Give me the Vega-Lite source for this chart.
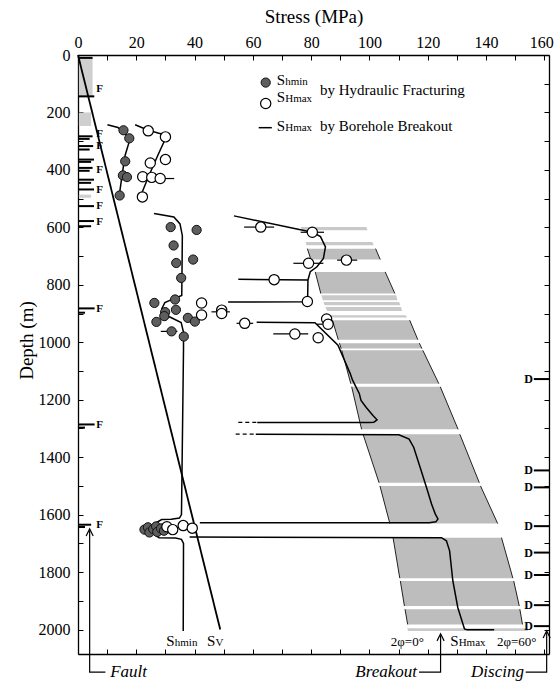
{
  "$schema": "https://vega.github.io/schema/vega-lite/v6.json",
  "width": 471,
  "height": 599,
  "autosize": {"type": "none"},
  "padding": {"left": 78, "top": 55, "right": 6, "bottom": 28},
  "config": {
    "view": {"stroke": null},
    "font": "Liberation Serif",
    "axis": {"domainColor": "#000", "domainWidth": 1.3, "tickColor": "#000", "tickWidth": 1, "labelColor": "#000", "labelFont": "Liberation Serif", "labelFontSize": 16, "titleFont": "Liberation Serif", "titleFontSize": 19, "titleFontWeight": "normal", "titleColor": "#000", "grid": false, "labelOverlap": false, "labelFlush": false}
  },
  "datasets": {
    "band": [
      {"seg": "C", "y": 674, "L": 78.7, "R": 102.1}, {"seg": "C", "y": 712, "L": 79.9, "R": 103.7},
      {"seg": "D", "y": 755, "L": 81.4, "R": 105.4}, {"seg": "D", "y": 830, "L": 83.3, "R": 108.7},
      {"seg": "I", "y": 923, "L": 87.3, "R": 113.8}, {"seg": "I", "y": 991, "L": 89.3, "R": 116.6},
      {"seg": "J", "y": 1003, "L": 89.7, "R": 117.1}, {"seg": "J", "y": 1022, "L": 90.3, "R": 118.0},
      {"seg": "K", "y": 1028, "L": 90.5, "R": 118.3}, {"seg": "K", "y": 1144, "L": 93.6, "R": 123.8},
      {"seg": "L", "y": 1155, "L": 93.9, "R": 124.3}, {"seg": "L", "y": 1303, "L": 97.3, "R": 130.4},
      {"seg": "M", "y": 1320, "L": 97.8, "R": 131.0}, {"seg": "M", "y": 1489, "L": 103.3, "R": 137.7},
      {"seg": "N", "y": 1500, "L": 103.6, "R": 138.1}, {"seg": "N", "y": 1631, "L": 107.0, "R": 144.0},
      {"seg": "O", "y": 1680, "L": 108.1, "R": 145.3}, {"seg": "O", "y": 1821, "L": 110.4, "R": 149.2},
      {"seg": "P", "y": 1831, "L": 110.6, "R": 149.5}, {"seg": "P", "y": 1918, "L": 112.0, "R": 151.4},
      {"seg": "Q", "y": 1929, "L": 112.2, "R": 151.6}, {"seg": "Q", "y": 1982, "L": 113.1, "R": 152.5}
    ],
    "strips": [
      {"seg": "A", "y": 599, "L": 76.4, "R": 98.9}, {"seg": "A", "y": 610, "L": 76.8, "R": 99.4},
      {"seg": "B", "y": 651, "L": 78.1, "R": 101.0}, {"seg": "B", "y": 662, "L": 78.4, "R": 101.5},
      {"seg": "E", "y": 836, "L": 83.5, "R": 109.2}, {"seg": "E", "y": 854, "L": 84.0, "R": 109.6},
      {"seg": "F", "y": 860, "L": 84.2, "R": 110.2}, {"seg": "F", "y": 871, "L": 84.6, "R": 110.6},
      {"seg": "G", "y": 877, "L": 84.9, "R": 110.8}, {"seg": "G", "y": 891, "L": 85.5, "R": 111.2},
      {"seg": "H", "y": 906, "L": 86.5, "R": 112.4}, {"seg": "H", "y": 914, "L": 86.9, "R": 112.9},
      {"seg": "R", "y": 1995, "L": 113.0, "R": 154.2}, {"seg": "R", "y": 2005, "L": 113.2, "R": 154.4}
    ],
    "lines": [
      {"id": "u1", "x": 10.1, "y": 243}, {"id": "u1", "x": 13.7, "y": 252}, {"id": "u1", "x": 17.9, "y": 291}, {"id": "u1", "x": 16.2, "y": 348}, {"id": "u1", "x": 15.3, "y": 406}, {"id": "u1", "x": 14.0, "y": 500},
      {"id": "u2", "x": 19.6, "y": 243}, {"id": "u2", "x": 24.1, "y": 262}, {"id": "u2", "x": 30.5, "y": 280}, {"id": "u2", "x": 27.4, "y": 349}, {"id": "u2", "x": 23.9, "y": 430}, {"id": "u2", "x": 21.6, "y": 488},
      {"id": "shp", "x": 26.1, "y": 552}, {"id": "shp", "x": 32.9, "y": 564}, {"id": "shp", "x": 35.0, "y": 588}, {"id": "shp", "x": 35.8, "y": 629}, {"id": "shp", "x": 35.6, "y": 837}, {"id": "shp", "x": 32.7, "y": 849}, {"id": "shp", "x": 29.8, "y": 862}, {"id": "shp", "x": 28.7, "y": 884}, {"id": "shp", "x": 29.2, "y": 901}, {"id": "shp", "x": 31.5, "y": 912}, {"id": "shp", "x": 35.4, "y": 931}, {"id": "shp", "x": 36.2, "y": 965}, {"id": "shp", "x": 36.2, "y": 1023}, {"id": "shp", "x": 35.5, "y": 1600}, {"id": "shp", "x": 34.8, "y": 1612}, {"id": "shp", "x": 32.0, "y": 1616}, {"id": "shp", "x": 28.7, "y": 1617}, {"id": "shp", "x": 26.5, "y": 1630}, {"id": "shp", "x": 26.0, "y": 1650}, {"id": "shp", "x": 26.5, "y": 1672}, {"id": "shp", "x": 27.8, "y": 1680}, {"id": "shp", "x": 33.5, "y": 1681}, {"id": "shp", "x": 35.5, "y": 1686}, {"id": "shp", "x": 36.2, "y": 1700}, {"id": "shp", "x": 36.1, "y": 2005},
      {"id": "s1", "x": 53.5, "y": 560}, {"id": "s1", "x": 80.4, "y": 617}, {"id": "s1", "x": 83.2, "y": 632}, {"id": "s1", "x": 84.9, "y": 668}, {"id": "s1", "x": 84.2, "y": 708}, {"id": "s1", "x": 82.0, "y": 737}, {"id": "s1", "x": 79.7, "y": 754}, {"id": "s1", "x": 78.9, "y": 783}, {"id": "s1", "x": 78.8, "y": 841}, {"id": "s1", "x": 78.2, "y": 859}, {"id": "s1", "x": 51.5, "y": 860},
      {"id": "s1b", "x": 55.0, "y": 781}, {"id": "s1b", "x": 78.9, "y": 783},
      {"id": "s2", "x": 61.3, "y": 930}, {"id": "s2", "x": 81.3, "y": 932}, {"id": "s2", "x": 89.2, "y": 1010}, {"id": "s2", "x": 93.4, "y": 1109}, {"id": "s2", "x": 94.2, "y": 1132}, {"id": "s2", "x": 96.5, "y": 1178}, {"id": "s2", "x": 97.1, "y": 1202}, {"id": "s2", "x": 98.9, "y": 1227}, {"id": "s2", "x": 101.2, "y": 1255}, {"id": "s2", "x": 102.6, "y": 1270}, {"id": "s2", "x": 101.5, "y": 1278}, {"id": "s2", "x": 100.0, "y": 1279}, {"id": "s2", "x": 61.5, "y": 1279},
      {"id": "s3", "x": 61.0, "y": 1320}, {"id": "s3", "x": 110.1, "y": 1322}, {"id": "s3", "x": 113.6, "y": 1337}, {"id": "s3", "x": 115.2, "y": 1366}, {"id": "s3", "x": 117.4, "y": 1436}, {"id": "s3", "x": 119.6, "y": 1506}, {"id": "s3", "x": 121.3, "y": 1563}, {"id": "s3", "x": 122.6, "y": 1598}, {"id": "s3", "x": 123.5, "y": 1615}, {"id": "s3", "x": 122.8, "y": 1625}, {"id": "s3", "x": 120.5, "y": 1628}, {"id": "s3", "x": 41.8, "y": 1628},
      {"id": "s4", "x": 38.3, "y": 1678}, {"id": "s4", "x": 124.7, "y": 1680}, {"id": "s4", "x": 126.4, "y": 1691}, {"id": "s4", "x": 127.5, "y": 1726}, {"id": "s4", "x": 128.6, "y": 1830}, {"id": "s4", "x": 130.3, "y": 1923}, {"id": "s4", "x": 132.6, "y": 1998}, {"id": "s4", "x": 133.5, "y": 2001}, {"id": "s4", "x": 142.8, "y": 2001},
      {"id": "leg", "x": 62.0, "y": 253}, {"id": "leg", "x": 66.5, "y": 253}
    ],
    "dashed": [
      {"id": "d2", "x": 55.0, "y": 1279}, {"id": "d2", "x": 61.5, "y": 1279},
      {"id": "d3", "x": 54.1, "y": 1320}, {"id": "d3", "x": 61.0, "y": 1320}
    ],
    "shmin": [
      {"x": 15.6, "y": 262}, {"x": 17.6, "y": 290}, {"x": 16.2, "y": 370}, {"x": 15.4, "y": 419}, {"x": 16.8, "y": 425}, {"x": 14.3, "y": 489},
      {"x": 31.8, "y": 599}, {"x": 40.7, "y": 609}, {"x": 32.8, "y": 663}, {"x": 33.7, "y": 724}, {"x": 39.5, "y": 712}, {"x": 35.4, "y": 776}, {"x": 33.3, "y": 851}, {"x": 26.2, "y": 863}, {"x": 33.6, "y": 887}, {"x": 29.9, "y": 895}, {"x": 29.6, "y": 909}, {"x": 26.9, "y": 929}, {"x": 37.7, "y": 915}, {"x": 40.1, "y": 928}, {"x": 32.1, "y": 962}, {"x": 36.3, "y": 980},
      {"x": 22.8, "y": 1652}, {"x": 24.0, "y": 1644}, {"x": 24.5, "y": 1662}, {"x": 25.8, "y": 1650}, {"x": 26.8, "y": 1641}, {"x": 27.2, "y": 1660}, {"x": 28.5, "y": 1648}, {"x": 29.5, "y": 1656}
    ],
    "shmax": [
      {"x": 24.1, "y": 264}, {"x": 30.0, "y": 285}, {"x": 30.0, "y": 364}, {"x": 24.8, "y": 376}, {"x": 22.2, "y": 424}, {"x": 25.3, "y": 426}, {"x": 28.2, "y": 430}, {"x": 22.1, "y": 494},
      {"x": 62.7, "y": 599}, {"x": 80.4, "y": 617}, {"x": 79.1, "y": 725}, {"x": 92.1, "y": 714}, {"x": 67.3, "y": 782}, {"x": 78.7, "y": 858}, {"x": 42.4, "y": 863}, {"x": 49.3, "y": 888}, {"x": 49.3, "y": 900}, {"x": 42.4, "y": 905}, {"x": 57.2, "y": 934}, {"x": 85.3, "y": 919}, {"x": 85.8, "y": 937}, {"x": 74.4, "y": 971}, {"x": 82.4, "y": 984},
      {"x": 30.5, "y": 1642}, {"x": 32.5, "y": 1652}, {"x": 36.1, "y": 1638}, {"x": 39.2, "y": 1647}
    ],
    "errbars": [
      {"x": 27.5, "x2": 33.0, "y": 430}, {"x": 57.0, "x2": 67.3, "y": 599}, {"x": 76.4, "x2": 84.4, "y": 617}, {"x": 73.9, "x2": 84.2, "y": 725}, {"x": 88.9, "x2": 95.8, "y": 714}, {"x": 45.8, "x2": 52.1, "y": 894}, {"x": 54.4, "x2": 60.1, "y": 934}, {"x": 82.0, "x2": 87.8, "y": 937}, {"x": 67.0, "x2": 79.0, "y": 971}, {"x": 28.4, "x2": 34.1, "y": 962}
    ],
    "ticks": [
      {"x": 0, "x2": 5.0, "y": 10}, {"x": 0, "x2": 5.6, "y": 144}, {"x": 0, "x2": 5.0, "y": 283}, {"x": 0, "x2": 4.0, "y": 292}, {"x": 0, "x2": 5.2, "y": 317}, {"x": 0, "x2": 4.0, "y": 329}, {"x": 0, "x2": 5.5, "y": 364}, {"x": 0, "x2": 4.5, "y": 372}, {"x": 0, "x2": 5.0, "y": 393}, {"x": 0, "x2": 4.0, "y": 403}, {"x": 0, "x2": 5.5, "y": 434}, {"x": 0, "x2": 4.5, "y": 445}, {"x": 0, "x2": 5.5, "y": 468}, {"x": 0, "x2": 5.5, "y": 526}, {"x": 0, "x2": 5.5, "y": 578}, {"x": 0, "x2": 4.5, "y": 596}, {"x": 0, "x2": 5.7, "y": 882}, {"x": 0, "x2": 2.4, "y": 897}, {"x": 0, "x2": 5.7, "y": 1286}, {"x": 0, "x2": 2.4, "y": 1297}, {"x": 0, "x2": 4.5, "y": 1635}, {"x": 0, "x2": 2.4, "y": 1643},
      {"x": 156.4, "x2": 161.6, "y": 1128}, {"x": 156.4, "x2": 161.6, "y": 1446}, {"x": 156.4, "x2": 161.6, "y": 1505}, {"x": 156.4, "x2": 161.6, "y": 1640}, {"x": 156.4, "x2": 161.6, "y": 1732}, {"x": 156.4, "x2": 161.6, "y": 1810}, {"x": 156.4, "x2": 161.6, "y": 1915}, {"x": 156.4, "x2": 161.6, "y": 1988}
    ],
    "faultzones": [
      {"x": 0.3, "x2": 5.0, "y": 10, "y2": 143}, {"x": 0.3, "x2": 4.5, "y": 200, "y2": 247}, {"x": 0.3, "x2": 4.5, "y": 486, "y2": 497}
    ],
    "arrows": [
      {"id": "fault", "x": 4.0, "y": 1655}, {"id": "fault", "x": 4.0, "y": 2148}, {"id": "fault", "x": 9.4, "y": 2148},
      {"id": "brk", "x": 117.0, "y": 2148}, {"id": "brk", "x": 124.4, "y": 2148}, {"id": "brk", "x": 124.4, "y": 2020},
      {"id": "disc", "x": 153.6, "y": 2148}, {"id": "disc", "x": 160.8, "y": 2148}, {"id": "disc", "x": 160.8, "y": 2010}
    ],
    "heads": [
      {"x": 4.0, "y": 1662}, {"x": 124.4, "y": 2027}, {"x": 160.8, "y": 2017}
    ]
  },
  "encoding": {
    "x": {"field": "x", "type": "quantitative", "scale": {"domain": [0, 161.6], "nice": false, "zero": false}, "axis": null},
    "y": {"field": "y", "type": "quantitative", "scale": {"domain": [0, 2085], "nice": false, "zero": false, "reverse": true}, "axis": null}
  },
  "resolve": {"axis": {"x": "independent", "y": "independent"}},
  "layer": [
    {
      "data": {"name": "band"},
      "mark": {"type": "area", "orient": "horizontal", "color": "#bdbdbd"},
      "encoding": {
        "x": {"field": "L", "type": "quantitative", "scale": {"domain": [0, 161.6], "nice": false, "zero": false},
          "axis": {"orient": "top", "values": [0, 10, 20, 30, 40, 50, 60, 70, 80, 90, 100, 110, 120, 130, 140, 150, 160], "format": "d", "labelExpr": "datum.value % 20 === 0 ? datum.label : ''", "labelOffset": {"condition": {"test": "datum.value === 160", "value": -3}, "value": 0}, "tickSize": -5, "labelPadding": 10, "title": "Stress (MPa)", "titleY": -39, "titleBaseline": "middle"}},
        "x2": {"field": "R"},
        "y": {"field": "y", "type": "quantitative", "scale": {"domain": [0, 2085], "nice": false, "zero": false, "reverse": true},
          "axis": {"orient": "left", "values": [0, 100, 200, 300, 400, 500, 600, 700, 800, 900, 1000, 1100, 1200, 1300, 1400, 1500, 1600, 1700, 1800, 1900, 2000], "format": "d", "labelExpr": "datum.value % 200 === 0 ? datum.label : ''", "tickSize": -5, "labelPadding": 13, "title": "Depth (m)", "titleX": -52, "titleY": 285, "titleBaseline": "middle", "titleAngle": -90}},
        "detail": {"field": "seg"}
      }
    },
    {
      "data": {"name": "strips"},
      "mark": {"type": "area", "orient": "horizontal", "color": "#c9c9c9"},
      "encoding": {"x": {"field": "L", "type": "quantitative"}, "x2": {"field": "R"}, "detail": {"field": "seg"}}
    },
    {
      "data": {"name": "band"},
      "mark": {"type": "line", "color": "#222", "strokeWidth": 1},
      "encoding": {"x": {"field": "L", "type": "quantitative"}, "detail": {"field": "seg"}, "order": {"value": null}}
    },
    {
      "data": {"name": "band"},
      "mark": {"type": "line", "color": "#222", "strokeWidth": 1},
      "encoding": {"x": {"field": "R", "type": "quantitative"}, "detail": {"field": "seg"}, "order": {"value": null}}
    },
    {
      "data": {"name": "faultzones"},
      "mark": {"type": "rect", "color": "#cfcfcf"},
      "encoding": {"x2": {"field": "x2"}, "y2": {"field": "y2"}}
    },
    {
      "data": {"values": [{"x": 0, "y": 0}, {"x": 48.8, "y": 2000}]},
      "mark": {"type": "line", "color": "#000", "strokeWidth": 1.8},
      "encoding": {
        "x": {"field": "x", "type": "quantitative", "scale": {"domain": [0, 161.6], "nice": false, "zero": false},
          "axis": {"orient": "bottom", "values": [0, 10, 20, 30, 40, 50, 60, 70, 80, 90, 100, 110, 120, 130, 140, 150, 160], "labels": false, "tickSize": -5, "title": null}},
        "y": {"field": "y", "type": "quantitative", "scale": {"domain": [0, 2085], "nice": false, "zero": false, "reverse": true},
          "axis": {"orient": "right", "values": [0, 100, 200, 300, 400, 500, 600, 700, 800, 900, 1000, 1100, 1200, 1300, 1400, 1500, 1600, 1700, 1800, 1900, 2000], "labels": false, "tickSize": -5, "title": null}},
        "order": {"value": null}
      }
    },
    {
      "data": {"name": "lines"},
      "mark": {"type": "line", "color": "#000", "strokeWidth": 1.5},
      "encoding": {"detail": {"field": "id"}, "order": {"value": null}}
    },
    {
      "data": {"name": "dashed"},
      "mark": {"type": "line", "color": "#000", "strokeWidth": 1.3, "strokeDash": [4, 3]},
      "encoding": {"detail": {"field": "id"}, "order": {"value": null}}
    },
    {
      "data": {"name": "errbars"},
      "mark": {"type": "rule", "color": "#000", "strokeWidth": 1.2},
      "encoding": {"x2": {"field": "x2"}}
    },
    {
      "data": {"name": "ticks"},
      "mark": {"type": "rule", "color": "#000", "strokeWidth": 2},
      "encoding": {"x2": {"field": "x2"}}
    },
    {
      "data": {"name": "arrows"},
      "mark": {"type": "line", "color": "#000", "strokeWidth": 1.2},
      "encoding": {"detail": {"field": "id"}, "order": {"value": null}}
    },
    {
      "data": {"name": "heads"},
      "mark": {"type": "point", "shape": "M-1,1L0,-1L1,1", "filled": false, "color": "#000", "strokeWidth": 1.2, "size": 50, "opacity": 1},
      "encoding": {}
    },
    {
      "data": {"name": "shmin"},
      "mark": {"type": "point", "shape": "circle", "filled": true, "fill": "#5e5e5e", "stroke": "#111", "strokeWidth": 1, "size": 85, "opacity": 1},
      "encoding": {}
    },
    {
      "data": {"name": "shmax"},
      "mark": {"type": "point", "shape": "circle", "filled": true, "fill": "#fff", "stroke": "#000", "strokeWidth": 1.2, "size": 105, "opacity": 1},
      "encoding": {}
    },
    {
      "data": {"values": [{"x": 64.4, "y": 96}]},
      "mark": {"type": "point", "shape": "circle", "filled": true, "fill": "#5e5e5e", "stroke": "#111", "strokeWidth": 1, "size": 85, "opacity": 1},
      "encoding": {}
    },
    {
      "data": {"values": [{"x": 64.4, "y": 169}]},
      "mark": {"type": "point", "shape": "circle", "filled": true, "fill": "#fff", "stroke": "#000", "strokeWidth": 1.2, "size": 105, "opacity": 1},
      "encoding": {}
    },
    {
      "data": {"values": [{"x": 68.2, "y": 103, "t": "S"}, {"x": 68.2, "y": 163, "t": "S"}, {"x": 68.2, "y": 265, "t": "S"}, {"x": 30.3, "y": 2057, "t": "S"}, {"x": 44.3, "y": 2057, "t": "S"}, {"x": 127.7, "y": 2057, "t": "S"}]},
      "mark": {"type": "text", "font": "Liberation Serif", "fontSize": 15, "align": "left", "baseline": "alphabetic", "color": "#000"},
      "encoding": {"text": {"field": "t"}}
    },
    {
      "data": {"values": [{"x": 71.1, "y": 103, "t": "hmin"}, {"x": 71.1, "y": 163, "t": "Hmax"}, {"x": 71.1, "y": 265, "t": "Hmax"}, {"x": 33.2, "y": 2057, "t": "hmin"}, {"x": 47.2, "y": 2057, "t": "V"}, {"x": 130.6, "y": 2057, "t": "Hmax"}]},
      "mark": {"type": "text", "font": "Liberation Serif", "fontSize": 11, "align": "left", "baseline": "alphabetic", "color": "#000"},
      "encoding": {"text": {"field": "t"}}
    },
    {
      "data": {"values": [{"x": 83.0, "y": 140, "t": "by Hydraulic Fracturing"}, {"x": 83.0, "y": 265, "t": "by Borehole Breakout"}]},
      "mark": {"type": "text", "font": "Liberation Serif", "fontSize": 15, "align": "left", "baseline": "alphabetic", "color": "#000"},
      "encoding": {"text": {"field": "t"}}
    },
    {
      "data": {"values": [{"x": 113.0, "y": 2057, "t": "2φ=0°"}, {"x": 150.5, "y": 2057, "t": "2φ=60°"}]},
      "mark": {"type": "text", "font": "Liberation Serif", "fontSize": 13, "align": "center", "baseline": "alphabetic", "color": "#000"},
      "encoding": {"text": {"field": "t"}}
    },
    {
      "data": {"values": [{"x": 23.7, "y": 2148, "t": "Fault"}, {"x": 116.3, "y": 2148, "t": "Breakout"}, {"x": 153.0, "y": 2148, "t": "Discing"}]},
      "mark": {"type": "text", "font": "Liberation Serif", "fontSize": 17, "fontStyle": "italic", "align": "right", "baseline": "middle", "color": "#000"},
      "encoding": {"text": {"field": "t"}}
    },
    {
      "data": {"values": [{"x": 6.3, "y": 119, "t": "F"}, {"x": 6.3, "y": 276, "t": "F"}, {"x": 6.3, "y": 318, "t": "F"}, {"x": 6.3, "y": 400, "t": "F"}, {"x": 6.3, "y": 470, "t": "F"}, {"x": 6.3, "y": 525, "t": "F"}, {"x": 6.3, "y": 583, "t": "F"}, {"x": 6.3, "y": 883, "t": "F"}, {"x": 6.3, "y": 1288, "t": "F"}, {"x": 6.3, "y": 1637, "t": "F"}]},
      "mark": {"type": "text", "font": "Liberation Serif", "fontSize": 11, "fontWeight": "bold", "align": "left", "baseline": "middle", "color": "#000"},
      "encoding": {"text": {"field": "t"}}
    },
    {
      "data": {"values": [{"x": 154.6, "y": 1128, "t": "D"}, {"x": 154.6, "y": 1446, "t": "D"}, {"x": 154.6, "y": 1505, "t": "D"}, {"x": 154.6, "y": 1640, "t": "D"}, {"x": 154.6, "y": 1732, "t": "D"}, {"x": 154.6, "y": 1810, "t": "D"}, {"x": 154.6, "y": 1915, "t": "D"}, {"x": 154.6, "y": 1988, "t": "D"}]},
      "mark": {"type": "text", "font": "Liberation Serif", "fontSize": 12, "fontWeight": "bold", "align": "center", "baseline": "middle", "color": "#000"},
      "encoding": {"text": {"field": "t"}}
    }
  ]
}
